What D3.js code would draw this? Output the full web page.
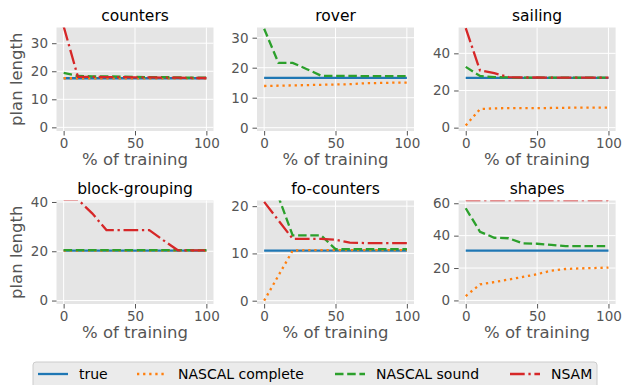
<!DOCTYPE html>
<html>
<head>
  <title>plan length</title>
<script src="https://d3js.org/d3.v7.min.js"></script>
<style>
  body { margin: 0; background: #fff; }
  svg { font-family: "DejaVu Sans", sans-serif; }
</style>
</head>
<body>
<svg width="622" height="385"></svg>
<script>

// % of training
var xs = [0, 10, 20, 30, 40, 50, 60, 70, 80, 90, 100];

var seriesNames = ["true", "NASCAL complete", "NASCAL sound", "NSAM"];

// each panel: [true, NASCAL complete, NASCAL sound, NSAM]
var counters = [
  [17.5, 17.5, 17.5, 17.5, 17.5, 17.5, 17.5, 17.5, 17.5, 17.5, 17.5],
  [17.5, 17.5, 17.5, 17.5, 17.5, 17.5, 17.5, 17.5, 17.5, 17.5, 17.5],
  [19.4, 18.3, 18.2, 18.2, 18.1, 18.0, 17.9, 17.9, 17.8, 17.7, 17.7],
  [36.0, 18.0, 18.0, 17.9, 17.9, 17.8, 17.8, 17.7, 17.7, 17.6, 17.6]
];
var rover = [
  [16.6, 16.6, 16.6, 16.6, 16.6, 16.6, 16.6, 16.6, 16.6, 16.6, 16.6],
  [13.9, 14.0, 14.1, 14.2, 14.3, 14.4, 14.5, 14.8, 14.9, 15.0, 15.0],
  [33.0, 21.6, 21.6, 19.5, 17.3, 17.3, 17.3, 17.2, 17.2, 17.2, 17.2],
  [34.0, 34.0, 34.0, 34.0, 34.0, 34.0, 34.0, 34.0, 34.0, 34.0, 34.0]
];
var sailing = [
  [26.8, 26.8, 26.8, 26.8, 26.8, 26.8, 26.8, 26.8, 26.8, 26.8, 26.8],
  [1.2, 10.0, 10.4, 10.5, 10.5, 10.5, 10.6, 10.7, 10.8, 10.8, 10.8],
  [32.7, 27.8, 27.2, 27.0, 26.9, 26.9, 26.9, 26.9, 26.9, 26.9, 26.9],
  [53.5, 30.8, 29.3, 27.2, 27.0, 27.0, 26.9, 26.9, 26.9, 26.9, 26.9]
];
var blockGrouping = [
  [20.3, 20.3, 20.3, 20.3, 20.3, 20.3, 20.3, 20.3, 20.3, 20.3, 20.3],
  [20.3, 20.3, 20.3, 20.3, 20.3, 20.3, 20.3, 20.3, 20.3, 20.3, 20.3],
  [20.5, 20.5, 20.5, 20.5, 20.5, 20.5, 20.5, 20.5, 20.5, 20.5, 20.5],
  [41.0, 41.0, 35.4, 28.6, 28.6, 28.6, 28.6, 24.4, 20.4, 20.4, 20.4]
];
var foCounters = [
  [10.6, 10.6, 10.6, 10.6, 10.6, 10.6, 10.6, 10.6, 10.6, 10.6, 10.6],
  [0.0, 5.3, 10.6, 10.7, 10.7, 10.7, 10.7, 10.7, 10.7, 10.7, 10.7],
  [22.0, 22.0, 13.8, 13.8, 13.8, 10.9, 10.9, 10.9, 10.9, 10.9, 10.9],
  [20.9, 17.0, 13.1, 13.1, 13.1, 12.9, 12.3, 12.2, 12.2, 12.2, 12.2]
];
var shapes = [
  [30.8, 30.8, 30.8, 30.8, 30.8, 30.8, 30.8, 30.8, 30.8, 30.8, 30.8],
  [2.7, 9.9, 11.3, 12.9, 14.5, 16.2, 18.4, 19.4, 19.8, 20.0, 20.3],
  [56.9, 42.4, 38.7, 38.4, 35.2, 35.0, 34.3, 33.5, 33.5, 33.5, 33.5],
  [62.0, 62.0, 62.0, 62.0, 62.0, 62.0, 62.0, 62.0, 62.0, 62.0, 62.0]
];

var titles = ["counters", "rover", "sailing", "block-grouping", "fo-counters", "shapes"];
var panelData = [counters, rover, sailing, blockGrouping, foCounters, shapes];
var yDomains = [[-1.3, 35.6], [-1.1, 33.4], [-1.8, 53.9], [-1.4, 40.6], [-0.7, 21.2], [-2.2, 61.7]];
var yTicks = [[0, 10, 20, 30], [0, 10, 20, 30], [0, 20, 40], [0, 20, 40], [0, 10, 20], [0, 20, 40, 60]];

var colors = ["#1f77b4", "#ff7f0e", "#2ca02c", "#d62728"];
var dashes = [null, "2.3,3.8", "8.5,3.7", "14.7,3.7,2.3,3.7"];

var svg = d3.select("svg");

var colLeft = [56.5, 257, 458.6],
    plotW = 157,
    rowTop = [27.5, 200.5],
    plotH = 103.5;

panelData.forEach(function(data, i) {
  var col = i % 3, row = Math.floor(i / 3);
  var g = svg.append("g")
      .attr("transform", "translate(" + colLeft[col] + "," + rowTop[row] + ")");

  var x = d3.scaleLinear().domain([-5, 105]).range([0, plotW]);
  var y = d3.scaleLinear().domain(yDomains[i]).range([plotH, 0]);

  g.append("rect")
      .attr("width", plotW)
      .attr("height", plotH)
      .attr("fill", "#e5e5e5");

  g.append("g").selectAll("line")
    .data([0, 50, 100])
    .enter().append("line")
      .attr("x1", function(d) { return x(d); })
      .attr("x2", function(d) { return x(d); })
      .attr("y2", plotH)
      .attr("stroke", "#fff");

  g.append("g").selectAll("line")
    .data(yTicks[i])
    .enter().append("line")
      .attr("y1", function(d) { return y(d); })
      .attr("y2", function(d) { return y(d); })
      .attr("x2", plotW)
      .attr("stroke", "#fff");

  var xAxis = g.append("g")
      .attr("transform", "translate(0," + plotH + ")")
      .call(d3.axisBottom(x).tickValues([0, 50, 100]).tickSize(4.5).tickPadding(3));
  var yAxis = g.append("g")
      .call(d3.axisLeft(y).tickValues(yTicks[i]).tickSize(4.5).tickPadding(4));
  [xAxis, yAxis].forEach(function(a) {
    a.select(".domain").remove();
    a.selectAll("line").attr("stroke", "#555");
    a.selectAll("text").attr("fill", "#555").style("font-size", "13.5px")
        .style("font-family", "DejaVu Sans, sans-serif");
  });

  g.append("clipPath")
      .attr("id", "clip-" + i)
    .append("rect")
      .attr("width", plotW)
      .attr("height", plotH);

  var line = d3.line()
      .x(function(d, j) { return x(xs[j]); })
      .y(function(d) { return y(d); });

  g.append("g")
      .attr("clip-path", "url(#clip-" + i + ")")
    .selectAll("path")
    .data(data)
    .enter().append("path")
      .attr("d", line)
      .attr("fill", "none")
      .attr("stroke", function(d, k) { return colors[k]; })
      .attr("stroke-width", 2.3)
      .attr("stroke-dasharray", function(d, k) { return dashes[k]; });

  g.append("text")
      .attr("x", plotW / 2)
      .attr("y", -7)
      .attr("text-anchor", "middle")
      .style("font-size", "15.5px")
      .text(titles[i]);

  g.append("text")
      .attr("x", plotW / 2)
      .attr("y", plotH + 34)
      .attr("text-anchor", "middle")
      .attr("fill", "#555")
      .style("font-size", "16.5px")
      .text("% of training");

  if (col === 0) {
    g.append("text")
      .attr("transform", "translate(" + (22 - colLeft[0]) + "," + (plotH / 2) + ") rotate(-90)")
      .attr("text-anchor", "middle")
      .attr("fill", "#555")
      .style("font-size", "16.5px")
      .text("plan length");
  }
});

// legend
var legend = svg.append("g").attr("transform", "translate(33,362)");
legend.append("rect")
    .attr("width", 564)
    .attr("height", 30)
    .attr("rx", 3)
    .attr("fill", "#ebebeb")
    .attr("stroke", "#cccccc");

var legendX = [5, 104, 302, 477];
var item = legend.selectAll(".item")
  .data(seriesNames)
  .enter().append("g")
    .attr("class", "item")
    .attr("transform", function(d, k) { return "translate(" + legendX[k] + ",12)"; });
item.append("line")
    .attr("x2", 30)
    .attr("stroke", function(d, k) { return colors[k]; })
    .attr("stroke-width", 2.3)
    .attr("stroke-dasharray", function(d, k) { return dashes[k]; });
item.append("text")
    .attr("x", 41)
    .attr("y", 5)
    .style("font-size", "14px")
    .text(function(d) { return d; });

</script>
</body>
</html>
